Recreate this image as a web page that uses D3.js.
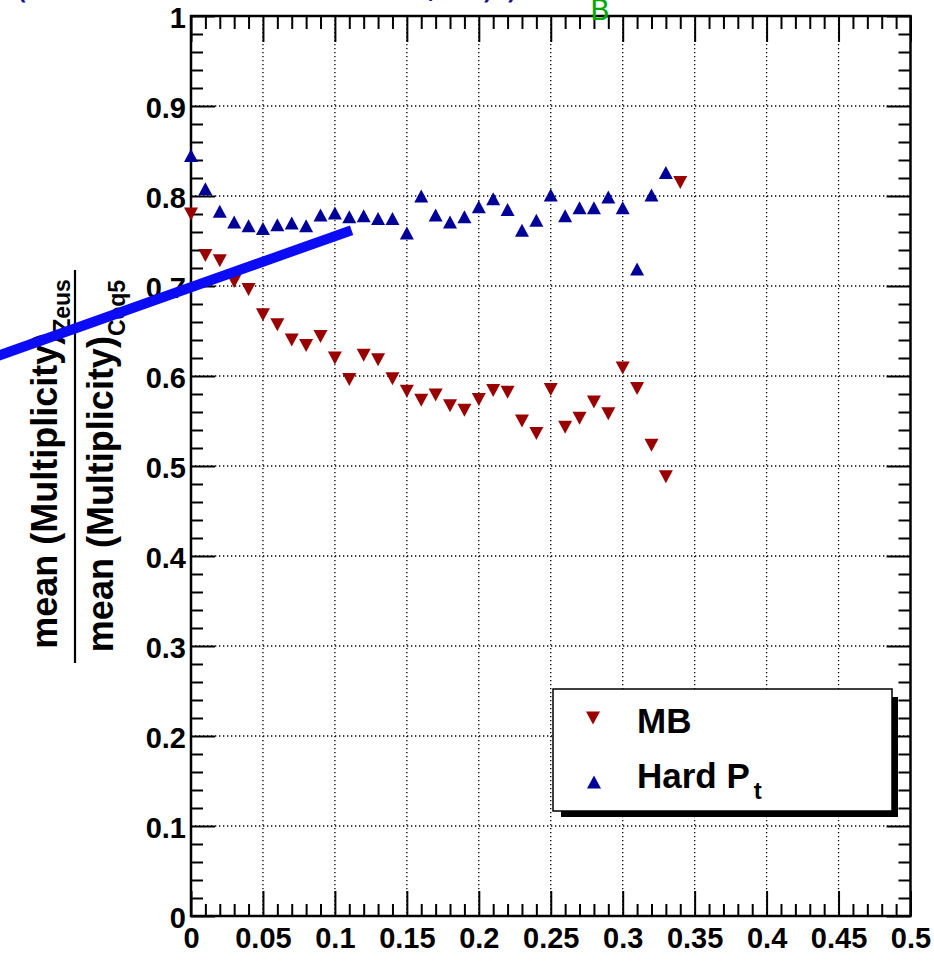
<!DOCTYPE html>
<html>
<head>
<meta charset="utf-8">
<script src="https://cdn.jsdelivr.net/npm/d3@7"></script>
<style>
  body { margin: 0; background: #fff; }
  text { font-family: "Liberation Sans", Arial, sans-serif; }
</style>
</head>
<body>
<script>
// sizes
var width = 934, height = 968;
var plotL = 191, plotR = 910.5, plotT = 16, plotB = 916;

// data
var mbX = [0, 0.01, 0.02, 0.03, 0.04, 0.05, 0.06, 0.07, 0.08, 0.09, 0.10, 0.11, 0.12, 0.13, 0.14, 0.15, 0.16, 0.17,
    0.18, 0.19, 0.20, 0.21, 0.22, 0.23, 0.24, 0.25, 0.26, 0.27, 0.28, 0.29, 0.30, 0.31, 0.32, 0.33, 0.34];
var mbY = [0.780, 0.734, 0.728, 0.705, 0.696, 0.668, 0.657, 0.640, 0.634, 0.644, 0.620, 0.596, 0.623, 0.618, 0.597,
    0.583, 0.573, 0.579, 0.567, 0.562, 0.574, 0.584, 0.582, 0.550, 0.536, 0.585, 0.543, 0.553, 0.571, 0.558,
    0.609, 0.586, 0.523, 0.488, 0.815];

var hardX = [0, 0.01, 0.02, 0.03, 0.04, 0.05, 0.06, 0.07, 0.08, 0.09, 0.10, 0.11, 0.12, 0.13, 0.14, 0.15, 0.16, 0.17,
    0.18, 0.19, 0.20, 0.21, 0.22, 0.23, 0.24, 0.25, 0.26, 0.27, 0.28, 0.29, 0.30, 0.31, 0.32, 0.33];
var hardY = [0.845, 0.808, 0.783, 0.771, 0.767, 0.764, 0.768, 0.770, 0.767, 0.779, 0.781, 0.777, 0.778, 0.775, 0.775,
    0.759, 0.800, 0.779, 0.771, 0.777, 0.788, 0.797, 0.785, 0.762, 0.773, 0.801, 0.778, 0.787, 0.787, 0.799,
    0.787, 0.719, 0.801, 0.826];

var xMajor = [0, 0.05, 0.1, 0.15, 0.2, 0.25, 0.3, 0.35, 0.4, 0.45, 0.5];
var xLabels = ["0", "0.05", "0.1", "0.15", "0.2", "0.25", "0.3", "0.35", "0.4", "0.45", "0.5"];
var yMajor = [0, 0.1, 0.2, 0.3, 0.4, 0.5, 0.6, 0.7, 0.8, 0.9, 1];
var yLabels = ["0", "0.1", "0.2", "0.3", "0.4", "0.5", "0.6", "0.7", "0.8", "0.9", "1"];

// thick blue stroke drawn over the plot (data coords)
var overlay = [{ x: -0.135, y: 0.6219 }, { x: 0.1116, y: 0.762 }];

var legendItems = ["MB", "Hard P"];

var svg = d3.select("body")
    .append("svg")
    .attr("width", width)
    .attr("height", height);

// scales
var xScale = d3.scaleLinear().domain([0, 0.5]).range([plotL, plotR]);
var yScale = d3.scaleLinear().domain([0, 1]).range([plotB, plotT]);

var xMinor = d3.range(0, 51).map(function (i) { return i / 100; }).filter(function (v) { return Math.round(v * 100) % 5 != 0; });
var yMinor = d3.range(0, 51).map(function (i) { return i / 50; }).filter(function (v) { return Math.round(v * 50) % 5 != 0 && v <= 1; });

// clipped text bits at the top
svg.append("text").attr("x", 13).attr("y", -3).attr("fill", "#14148c")
    .style("font-family", "DejaVu Sans").style("font-size", "40px").text("(");
svg.append("text").attr("x", 426).attr("y", -4).attr("fill", "#14148c")
    .style("font-family", "DejaVu Sans").style("font-size", "40px").text(",");
svg.append("text").attr("x", 481).attr("y", -3).attr("fill", "#14148c")
    .style("font-family", "DejaVu Sans").style("font-size", "40px").text(")");
svg.append("text").attr("x", 505).attr("y", -3).attr("fill", "#14148c")
    .style("font-family", "DejaVu Sans").style("font-size", "40px").text(")");

// grid
var grid = svg.append("g").attr("stroke", "#000").attr("stroke-width", 1.3).attr("stroke-dasharray", "1.3,2.7");
grid.selectAll("line.gx").data(xMajor.slice(1, -1)).enter().append("line")
    .attr("x1", function (d) { return xScale(d); }).attr("x2", function (d) { return xScale(d); })
    .attr("y1", plotT).attr("y2", plotB);
grid.selectAll("line.gy").data(yMajor.slice(1, -1)).enter().append("line")
    .attr("y1", function (d) { return yScale(d); }).attr("y2", function (d) { return yScale(d); })
    .attr("x1", plotL).attr("x2", plotR);

// axes (ticks inside, ROOT style)
function styleAxis(g) {
    g.select(".domain").remove();
    g.selectAll("line").attr("stroke", "#000").attr("stroke-width", 2);
    g.selectAll("text").style("font-family", "'Liberation Sans', Arial, sans-serif")
        .style("font-size", "29px").style("font-weight", "bold").attr("fill", "#000");
}

svg.append("g").attr("transform", "translate(0," + plotB + ")")
    .call(d3.axisBottom(xScale).tickValues(xMinor).tickSize(-12).tickFormat("")).call(styleAxis);
svg.append("g").attr("transform", "translate(0," + plotB + ")")
    .call(d3.axisBottom(xScale).tickValues(xMajor).tickSize(-25).tickPadding(11)
        .tickFormat(function (d, i) { return xLabels[i]; })).call(styleAxis);
svg.append("g").attr("transform", "translate(0," + plotT + ")")
    .call(d3.axisTop(xScale).tickValues(xMinor).tickSize(-13).tickFormat("")).call(styleAxis);
svg.append("g").attr("transform", "translate(0," + plotT + ")")
    .call(d3.axisTop(xScale).tickValues(xMajor).tickSize(-26).tickFormat("")).call(styleAxis);

svg.append("g").attr("transform", "translate(" + plotL + ",0)")
    .call(d3.axisLeft(yScale).tickValues(yMinor).tickSize(-12).tickFormat("")).call(styleAxis);
var yAx = svg.append("g").attr("transform", "translate(" + plotL + ",0)")
    .call(d3.axisLeft(yScale).tickValues(yMajor).tickSize(-24).tickPadding(5)
        .tickFormat(function (d, i) { return yLabels[i]; })).call(styleAxis);
yAx.selectAll("text").attr("dy", "0.38em");
svg.append("g").attr("transform", "translate(" + plotR + ",0)")
    .call(d3.axisRight(yScale).tickValues(yMinor).tickSize(-12).tickFormat("")).call(styleAxis);
svg.append("g").attr("transform", "translate(" + plotR + ",0)")
    .call(d3.axisRight(yScale).tickValues(yMajor).tickSize(-24).tickFormat("")).call(styleAxis);

// frame
svg.append("rect").attr("x", plotL).attr("y", plotT)
    .attr("width", plotR - plotL).attr("height", plotB - plotT)
    .attr("fill", "none").attr("stroke", "#000").attr("stroke-width", 2.5);

// markers
var upTri = "M0,-6.5L7,6.5L-7,6.5Z";
var downTri = "M0,6.5L7,-6.5L-7,-6.5Z";

svg.append("g").selectAll("path").data(mbX).enter().append("path")
    .attr("d", downTri)
    .attr("transform", function (d, i) { return "translate(" + xScale(d) + "," + yScale(mbY[i]) + ")"; })
    .attr("fill", "#990000");

svg.append("g").selectAll("path").data(hardX).enter().append("path")
    .attr("d", upTri)
    .attr("transform", function (d, i) { return "translate(" + xScale(d) + "," + yScale(hardY[i]) + ")"; })
    .attr("fill", "#000099");

// y title (fraction)
var yt = svg.append("g").attr("font-weight", "bold").attr("fill", "#000");
var num = yt.append("text").attr("transform", "translate(57,464) rotate(-90)")
    .attr("text-anchor", "middle").style("font-size", "36px");
num.append("tspan").text("mean (Multiplicity)");
num.append("tspan").attr("dy", 13).style("font-size", "23px").text("Zeus");
var den = yt.append("text").attr("transform", "translate(113,466) rotate(-90)")
    .attr("text-anchor", "middle").style("font-size", "36px");
den.append("tspan").text("mean (Multiplicity)");
den.append("tspan").attr("dy", 12).style("font-size", "23px").text("Ceq5");
yt.append("line").attr("x1", 75).attr("x2", 75).attr("y1", 270).attr("y2", 663)
    .attr("stroke", "#000").attr("stroke-width", 2.2);

// legend
var lg = svg.append("g");
lg.append("rect").attr("x", 561).attr("y", 697).attr("width", 337).attr("height", 120).attr("fill", "#000");
lg.append("rect").attr("x", 553).attr("y", 689).attr("width", 339).attr("height", 122)
    .attr("fill", "#fff").attr("stroke", "#000").attr("stroke-width", 1.5);
lg.append("path").attr("d", downTri).attr("transform", "translate(593,718)").attr("fill", "#990000");
lg.append("path").attr("d", upTri).attr("transform", "translate(594,782)").attr("fill", "#000099");
lg.append("text").attr("x", 637).attr("y", 733).style("font-size", "35px").style("font-weight", "bold")
    .text(legendItems[0]);
var hp = lg.append("text").attr("x", 637).attr("y", 788).style("font-size", "35px").style("font-weight", "bold");
hp.append("tspan").text(legendItems[1]);
hp.append("tspan").attr("dy", 11).attr("dx", 4).style("font-size", "24px").text("t");

// overlay line
var lineGen = d3.line().x(function (d) { return xScale(d.x); }).y(function (d) { return yScale(d.y); });
svg.append("path").datum(overlay).attr("d", lineGen)
    .attr("fill", "none").attr("stroke", "#0b0bf5").attr("stroke-width", 10);

// green letter at the top edge
svg.append("text").attr("x", 590).attr("y", 20).attr("fill", "#00a800")
    .style("font-family", "DejaVu Sans").style("font-size", "29px").text("B");
</script>
</body>
</html>
